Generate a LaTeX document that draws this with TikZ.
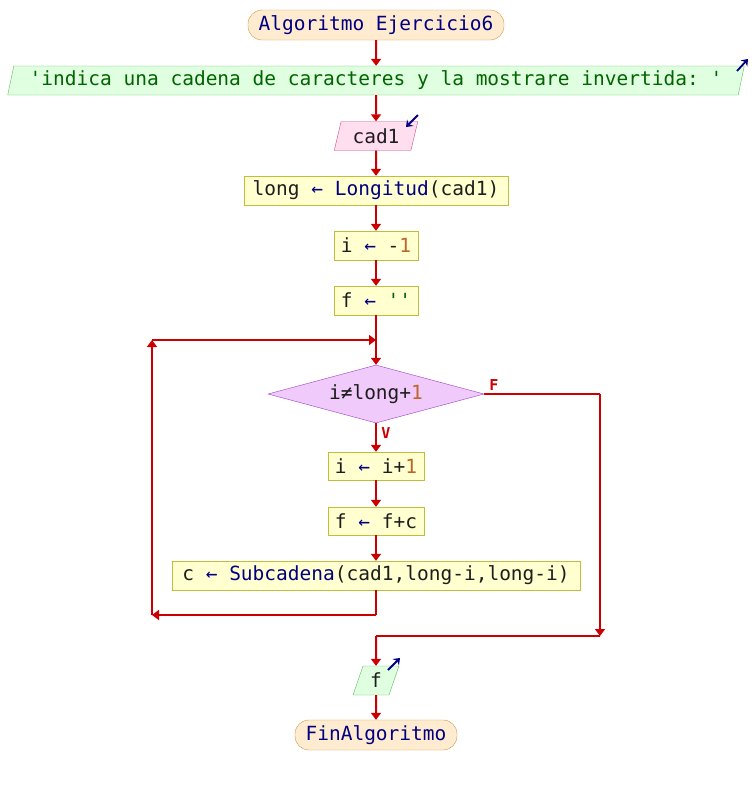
\documentclass[tikz,border=0pt]{standalone}
\usepackage{fontspec}
\setmonofont{DejaVu Sans Mono}
\setsansfont{DejaVu Sans}
\usetikzlibrary{arrows.meta,shapes.geometric,calc}
\definecolor{flowred}{RGB}{204,0,0}
\definecolor{termfill}{RGB}{255,236,208}
\definecolor{termdraw}{RGB}{206,150,70}
\definecolor{outfill}{RGB}{224,255,224}
\definecolor{outdraw}{RGB}{90,190,90}
\definecolor{infill}{RGB}{255,222,240}
\definecolor{indraw}{RGB}{200,80,140}
\definecolor{procfill}{RGB}{255,255,208}
\definecolor{procdraw}{RGB}{190,190,60}
\definecolor{decfill}{RGB}{240,202,250}
\definecolor{decdraw}{RGB}{160,60,200}
\definecolor{kw}{RGB}{0,0,128}
\definecolor{vart}{RGB}{30,30,30}
\definecolor{strg}{RGB}{0,100,0}
\definecolor{numb}{RGB}{190,100,40}
\newcommand{\kw}[1]{{\color{kw}#1}}
\newcommand{\nm}[1]{{\color{numb}#1}}
\newcommand{\st}[1]{{\color{strg}#1}}
\begin{document}
\begin{tikzpicture}[x=1pt,y=-1pt]
    \tikzset{base/.style={font=\ttfamily\fontsize{19.5}{22}\selectfont, text=vart, inner sep=0pt},
      term/.style={base, draw=termdraw, fill=termfill, rounded corners=14pt, minimum height=30pt, text=kw},
      proc/.style={base, draw=procdraw, fill=procfill, minimum height=29pt},
      outbox/.style={base, trapezium, trapezium left angle=73, trapezium right angle=107, trapezium stretches=true, draw=outdraw, fill=outfill, minimum height=29pt},
      inbox/.style={outbox, draw=indraw, fill=infill},
      decbox/.style={base, diamond, aspect=3.7, draw=decdraw, fill=decfill, minimum width=216pt, minimum height=58pt},
      flow/.style={draw=flowred, line width=2pt, -{Triangle[width=10pt,length=7pt]}},
      line/.style={draw=flowred, line width=2pt},
      lbl/.style={font=\ttfamily\bfseries\fontsize{15}{17}\selectfont, text=flowred},
      icon/.style={draw=kw, line width=1.8pt, -{Stealth[width=9pt,length=6pt]}}}
    \useasboundingbox (0,0) rectangle (752,785);
    \node[term, minimum width=256pt] (start) at (376,25) {Algoritmo Ejercicio6};
    \node[outbox, minimum width=745pt] (msg) at (376,80.5) {\st{'indica una cadena de caracteres y la mostrare invertida: '}};
    \node[inbox, minimum width=84pt] (cad) at (376,136) {cad1};
    \node[proc, minimum width=264pt] (len) at (376,190.5) {long \kw{←} \kw{Longitud}(cad1)};
    \node[proc, minimum width=84pt] (iini) at (376,245.5) {i \kw{←} -\nm{1}};
    \node[proc, minimum width=84pt] (fini) at (376,300.5) {f \kw{←} \st{''}};
    \node[decbox] (cond) at (376,394) {i≠long+\nm{1}};
    \node[proc, minimum width=96pt, minimum height=28pt] (inc) at (376,466) {i \kw{←} i+\nm{1}};
    \node[proc, minimum width=96pt, minimum height=28pt] (acc) at (376,521) {f \kw{←} f+c};
    \node[proc, minimum width=408pt] (sub) at (376,575.5) {c \kw{←} \kw{Subcadena}(cad1,long-i,long-i)};
    \node[outbox, minimum width=46pt] (res) at (376,680.5) {f};
    \node[term, minimum width=162pt] (fin) at (376,735) {FinAlgoritmo};
    \coordinate (join) at (376,340);
    \coordinate (backA) at (376,615);
    \coordinate (backB) at (152,615);
    \coordinate (backC) at (152,340);
    \coordinate (noA) at (600,394);
    \coordinate (noB) at (600,636);
    \coordinate (noC) at (376,636);
    \draw[flow] (start) -- (msg);
    \draw[flow] (msg) -- (cad);
    \draw[flow] (cad) -- (len);
    \draw[flow] (len) -- (iini);
    \draw[flow] (iini) -- (fini);
    \draw[line] (fini) -- (join);
    \draw[flow] (join) -- (cond);
    \draw[flow] (cond) -- (inc);
    \draw[flow] (inc) -- (acc);
    \draw[flow] (acc) -- (sub);
    \draw[line] (sub) -- (backA);
    \draw[flow] (backA) -- (backB);
    \draw[flow] (backB) -- (backC);
    \draw[flow] (backC) -- (join);
    \draw[line] (cond.east) -- (noA);
    \draw[flow] (noA) -- (noB);
    \draw[line] (noB) -- (noC);
    \draw[flow] (noC) -- (res);
    \draw[flow] (res) -- (fin);
    \node[lbl] (lblF) at (494,385) {F};
    \node[lbl] (lblV) at (386,433) {V};
    \draw[icon] (737,71) -- (748,59);
    \draw[icon] (418,115) -- (406,127);
    \draw[icon] (388,670) -- (400,658);
\end{tikzpicture}
\end{document}
